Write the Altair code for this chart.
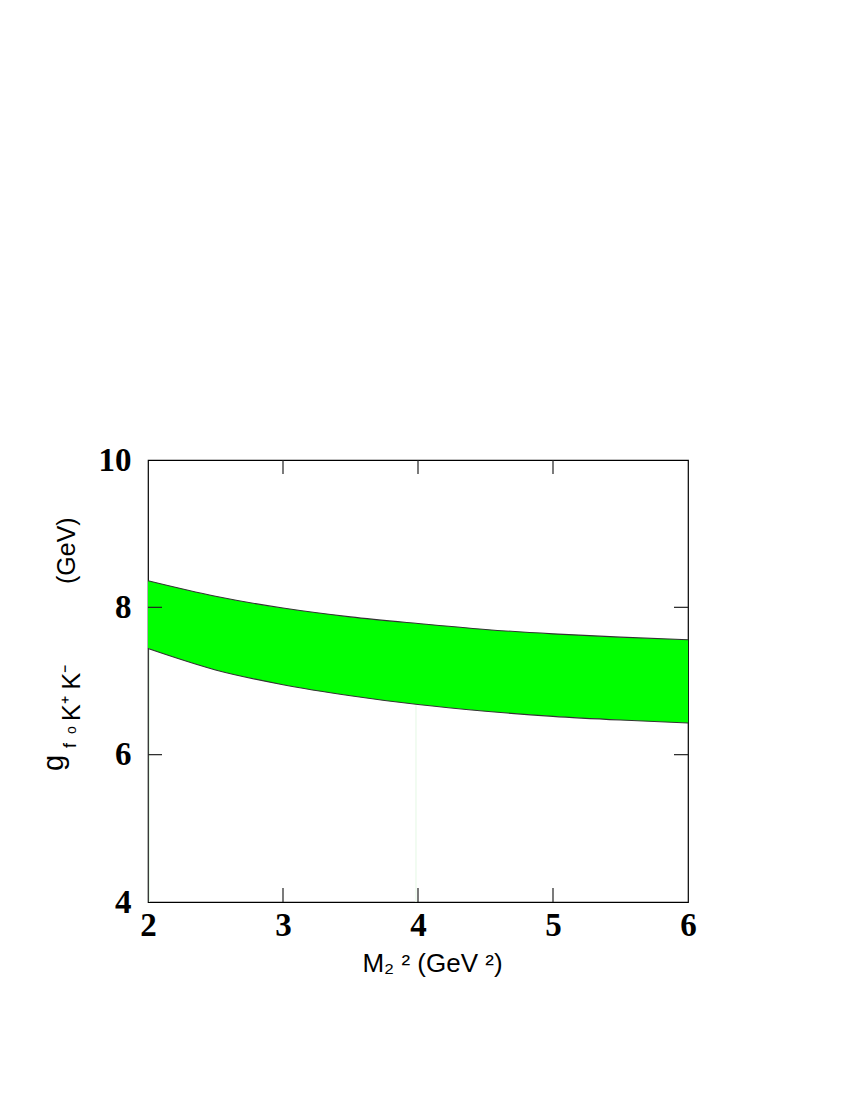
import altair as alt
import pandas as pd

# Band: M^2 (GeV^2) vs upper / lower edge of g (GeV)
m2 = [2.0, 2.5, 3.0, 3.5, 4.0, 4.5, 5.0, 5.5, 6.0]
g_upper = [8.36, 8.15, 7.99, 7.87, 7.78, 7.70, 7.64, 7.595, 7.56]
g_lower = [7.44, 7.15, 6.95, 6.80, 6.68, 6.59, 6.52, 6.47, 6.43]

x_ticks = [2, 3, 4, 5, 6]
y_ticks = [4, 6, 8, 10]
x_inner_ticks = [3, 4, 5]
y_inner_ticks = [6, 8]

# faint light-green artefact lines under the band
art_x = [2.01, 3.985]
art_top = [7.44, 6.67]

band = pd.DataFrame({"m2": m2, "hi": g_upper, "lo": g_lower})
xt = pd.DataFrame({"v": x_inner_ticks})
yt = pd.DataFrame({"v": y_inner_ticks})
art = pd.DataFrame({"x": art_x, "top": art_top, "bot": [4, 4]})

W, H = 540, 442
TICK = 14

xscale = alt.Scale(domain=[2, 6], nice=False, zero=False)
yscale = alt.Scale(domain=[4, 10], nice=False, zero=False)

xaxis = alt.Axis(values=x_ticks, format="d", title="M\u2082 \u00b2 (GeV \u00b2)", ticks=False, domain=False, grid=False,
                 labelFont="Liberation Serif", labelFontWeight="bold", labelFontSize=33, labelColor="black",
                 labelPadding=7, labelFlush=False, labelOverlap=False,
                 titleFont="Liberation Sans", titleFontWeight="normal", titleFontSize=26, titleColor="black",
                 titlePadding=8, titleX=284)
yaxis = alt.Axis(values=y_ticks, format="d", title=None, ticks=False, domain=False, grid=False,
                 labelFont="Liberation Serif", labelFontWeight="bold", labelFontSize=33, labelColor="black",
                 labelPadding=17, labelFlush=False, labelOverlap=False, labelBaseline="middle")

area = alt.Chart(band).mark_area(color="#00ff00", interpolate="monotone", opacity=1).encode(
    x=alt.X("m2:Q", scale=xscale, axis=xaxis),
    y=alt.Y("hi:Q", scale=yscale, axis=yaxis),
    y2="lo:Q",
)
line_hi = alt.Chart(band).mark_line(color="#333333", strokeWidth=1.1, interpolate="monotone").encode(
    x=alt.X("m2:Q", scale=xscale), y=alt.Y("hi:Q", scale=yscale))
line_lo = alt.Chart(band).mark_line(color="#333333", strokeWidth=1.1, interpolate="monotone").encode(
    x=alt.X("m2:Q", scale=xscale), y=alt.Y("lo:Q", scale=yscale))

artefacts = alt.Chart(art).mark_rule(color="#e4f8e4", strokeWidth=1).encode(
    x=alt.X("x:Q", scale=xscale), y=alt.Y("bot:Q", scale=yscale), y2="top:Q")

tick_style = dict(color="#222222", strokeWidth=1.2)
xt_bottom = alt.Chart(xt).mark_rule(**tick_style).encode(
    x=alt.X("v:Q", scale=xscale), y=alt.value(H), y2=alt.value(H - TICK))
xt_top = alt.Chart(xt).mark_rule(**tick_style).encode(
    x=alt.X("v:Q", scale=xscale), y=alt.value(0), y2=alt.value(TICK))
yt_left = alt.Chart(yt).mark_rule(**tick_style).encode(
    y=alt.Y("v:Q", scale=yscale), x=alt.value(0), x2=alt.value(TICK))
yt_right = alt.Chart(yt).mark_rule(**tick_style).encode(
    y=alt.Y("v:Q", scale=yscale), x=alt.value(W), x2=alt.value(W - TICK))

one = alt.Data(values=[{}])
def ytitle_piece(txt, px, py, size):
    return alt.Chart(one).mark_text(text=txt, angle=270, align="left", baseline="alphabetic",
                                    font="Liberation Sans", fontSize=size, color="black").encode(
        x=alt.value(px), y=alt.value(py))

title_parts = [
    ytitle_piece("g", -85, 311, 29),
    ytitle_piece("f", -72, 288, 18),
    ytitle_piece("o", -72, 274, 14),
    ytitle_piece("K\u207a K\u207b", -68, 261, 25),
    ytitle_piece("(GeV)", -73, 124, 25),
]

chart = alt.layer(area, artefacts, line_hi, line_lo, xt_bottom, xt_top, yt_left, yt_right, *title_parts).properties(
    width=W, height=H,
    autosize=alt.AutoSizeParams(type="none"),
    padding={"left": 140, "top": 452, "right": 150, "bottom": 180},
    background="white",
).configure_view(stroke="black", strokeWidth=1.2)

chart.save("out.html", embed_options={"renderer": "svg", "actions": False})
